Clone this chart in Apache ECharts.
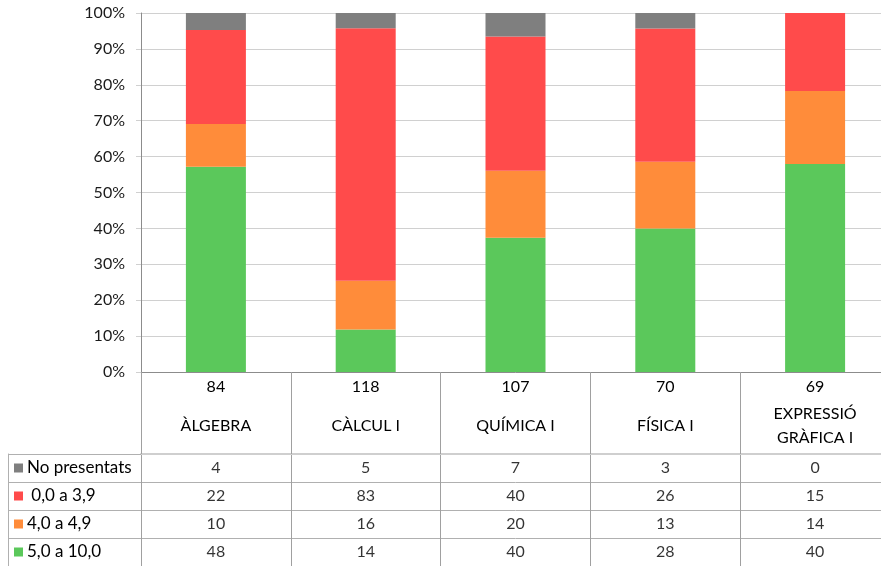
<!DOCTYPE html>
<html>
<head>
<meta charset="utf-8">
<script src="https://cdn.jsdelivr.net/npm/echarts@6/dist/echarts.min.js"></script>
<style>
html,body{margin:0;padding:0;background:#fff;overflow:hidden;width:881px;height:566px;}
#chart{width:900px;height:566px;}
</style>
</head>
<body>
<div id="chart"></div>
<script>
var categories = ['ÀLGEBRA', 'CÀLCUL I', 'QUÍMICA I', 'FÍSICA I', 'EXPRESSIÓ\nGRÀFICA I'];
var totals = [84, 118, 107, 70, 69];
var seriesNames = ['No presentats', ' 0,0 a 3,9', '4,0 a 4,9', '5,0 a 10,0'];
var noPresentats = [4, 5, 7, 3, 0];
var suspens = [22, 83, 40, 26, 15];
var de4a49 = [10, 16, 20, 13, 14];
var aprovats = [48, 14, 40, 28, 40];
var yTicks = [0, 10, 20, 30, 40, 50, 60, 70, 80, 90, 100];
var colors = ['#7f7f7f', '#ff4b4b', '#ff8c3a', '#5bc85b'];

var seriesValues = [noPresentats, suspens, de4a49, aprovats];
var FONT = 'Lato';
var FS = 16;

function pct(arr) {
  return arr.map(function (v, i) { return v / totals[i] * 100; });
}

var barSeries = [];
[3, 2, 1, 0].forEach(function (k) {
  barSeries.push({
    name: seriesNames[k],
    type: 'bar',
    stack: 'total',
    xAxisIndex: 0,
    yAxisIndex: 0,
    barWidth: 60,
    itemStyle: { color: colors[k] },
    data: pct(seriesValues[k])
  });
});

var cellData = [];
seriesValues.forEach(function (arr, r) {
  arr.forEach(function (v, c) {
    cellData.push([categories[c], seriesNames[r], v]);
  });
});

var richRow = { t: { fontFamily: FONT, fontSize: FS + 1, color: '#000', padding: [0, 0, 0, 4] } };
seriesNames.forEach(function (n, i) {
  richRow['s' + i] = { width: 9, height: 9, backgroundColor: colors[i] };
});

var chart = echarts.init(document.getElementById('chart'), null, { renderer: 'canvas', width: 900, height: 566 });
chart.setOption({
  animation: false,
  textStyle: { fontFamily: FONT },
  grid: [
    { left: 141, top: 13, width: 749, height: 359, containLabel: false },
    { left: 141, top: 454, width: 749, height: 112, containLabel: false }
  ],
  xAxis: [
    {
      gridIndex: 0, type: 'category', position: 'bottom', data: categories,
      axisLine: { show: true, lineStyle: { color: '#8c8c8c', width: 1 } },
      axisTick: { show: true, length: 82, lineStyle: { color: '#a0a0a0' } },
      axisLabel: {
        interval: 0, margin: 7, fontFamily: FONT, fontSize: FS, color: '#000',
        formatter: function (v, i) { return String(totals[i]); }
      },
      splitLine: { show: false }
    },
    {
      gridIndex: 0, type: 'category', position: 'bottom', data: categories,
      axisLine: { show: false }, axisTick: { show: false },
      axisLabel: {
        interval: 0, margin: 54, verticalAlign: 'middle', fontFamily: FONT, fontSize: FS,
        color: '#000', lineHeight: 24
      },
      splitLine: { show: false }
    },
    {
      gridIndex: 1, type: 'category', position: 'top', data: categories,
      axisLine: { show: true, lineStyle: { color: '#cfcfcf', width: 2 } },
      axisTick: { show: false },
      axisLabel: { show: false },
      splitLine: { show: true, lineStyle: { color: '#a0a0a0', width: 1 } }
    }
  ],
  yAxis: [
    {
      gridIndex: 0, type: 'value', min: 0, max: 100, interval: 10,
      axisLine: { show: true, lineStyle: { color: '#8c8c8c' } },
      axisTick: { show: true, length: 5, lineStyle: { color: '#d0d0d0' } },
      axisLabel: {
        fontFamily: FONT, fontSize: FS, color: '#1a1a1a', margin: 16,
        formatter: function (v) { return yTicks.indexOf(v) >= 0 ? v + '%' : ''; }
      },
      splitLine: { show: true, lineStyle: { color: '#d0d0d0', width: 1 } }
    },
    {
      gridIndex: 1, type: 'category', inverse: true, data: seriesNames,
      axisLine: { show: true, lineStyle: { color: '#a0a0a0' } },
      axisTick: { show: true, length: 133, lineStyle: { color: '#b0b0b0' } },
      axisLabel: {
        interval: 0, margin: 127, align: 'left',
        formatter: function (v, i) { return '{s' + i + '|}{t|' + v + '}'; },
        rich: richRow
      },
      splitLine: { show: true, lineStyle: { color: '#b0b0b0', width: 1 } }
    },
    {
      gridIndex: 1, type: 'category', inverse: true, data: seriesNames, position: 'left', offset: 133,
      axisLine: { show: true, lineStyle: { color: '#b0b0b0' } },
      axisTick: { show: false }, axisLabel: { show: false }, splitLine: { show: false }
    }
  ],
  series: barSeries.concat([
    {
      type: 'scatter', xAxisIndex: 2, yAxisIndex: 1,
      symbolSize: 1, itemStyle: { color: 'rgba(0,0,0,0)' },
      label: {
        show: true, position: 'inside', fontFamily: FONT, fontSize: FS, color: '#000',
        formatter: function (p) { return String(p.value[2]); }
      },
      data: cellData
    }
  ])
});
</script>
</body>
</html>
